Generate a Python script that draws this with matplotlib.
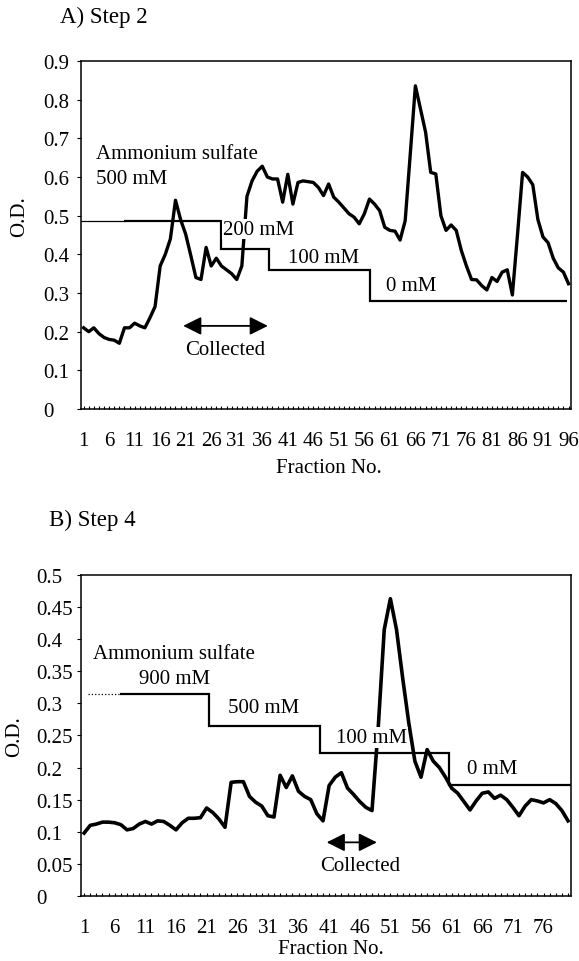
import numpy as np
import matplotlib
matplotlib.use("Agg")
import matplotlib.pyplot as plt

plt.rcParams['font.family'] = ['Liberation Serif', 'DejaVu Serif']
plt.rcParams['font.size'] = 15

# ---- A) Step 2 : 96 fractions ----
od_a = [0.21, 0.20, 0.21, 0.195, 0.185, 0.18, 0.178, 0.17, 0.21, 0.21,
        0.222, 0.215, 0.21, 0.236, 0.265, 0.37, 0.40, 0.44, 0.54, 0.49,
        0.452, 0.397, 0.34, 0.335, 0.418, 0.37, 0.39, 0.37, 0.36, 0.35,
        0.335, 0.37, 0.55, 0.59, 0.615, 0.628, 0.60, 0.595, 0.595, 0.535,
        0.607, 0.53, 0.586, 0.59, 0.588, 0.586, 0.573, 0.552, 0.582, 0.548,
        0.535, 0.52, 0.505, 0.496, 0.479, 0.505, 0.543, 0.53, 0.513, 0.47,
        0.462, 0.46, 0.437, 0.487, 0.66, 0.836, 0.776, 0.716, 0.612, 0.608,
        0.50, 0.462, 0.476, 0.462, 0.41, 0.37, 0.335, 0.334, 0.319, 0.308,
        0.34, 0.33, 0.354, 0.36, 0.295, 0.45, 0.612, 0.60, 0.58, 0.49,
        0.445, 0.43, 0.39, 0.365, 0.354, 0.324]
salt_a_edges = [9.0, 27.9, 37.3, 57.1, 95.7]
salt_a_levels = [0.486, 0.413, 0.36, 0.28]
salt_a_lead = [0.5, 9.0]
xticks_a = list(range(1, 97, 5))
yticks_a = [0, 0.1, 0.2, 0.3, 0.4, 0.5, 0.6, 0.7, 0.8, 0.9]
ylabels_a = ['0', '0.1', '0.2', '0.3', '0.4', '0.5', '0.6', '0.7', '0.8', '0.9']

# ---- B) Step 4 : 80 fractions ----
od_b = [0.098, 0.110, 0.112, 0.115, 0.115, 0.114, 0.111, 0.103, 0.105, 0.112,
        0.116, 0.112, 0.117, 0.116, 0.110, 0.103, 0.114, 0.121, 0.121, 0.122,
        0.137, 0.130, 0.120, 0.107, 0.177, 0.178, 0.178, 0.155, 0.146, 0.140,
        0.125, 0.123, 0.188, 0.169, 0.187, 0.163, 0.155, 0.150, 0.128, 0.117,
        0.172, 0.185, 0.192, 0.168, 0.158, 0.147, 0.138, 0.133, 0.26, 0.415,
        0.463, 0.415, 0.34, 0.27, 0.21, 0.185, 0.228, 0.21, 0.20, 0.185,
        0.168, 0.16, 0.147, 0.134, 0.148, 0.16, 0.162, 0.152, 0.157, 0.15,
        0.138, 0.125, 0.14, 0.15, 0.148, 0.145, 0.15, 0.144, 0.133, 0.117]
salt_b_edges = [6.8, 21.35, 39.5, 60.6, 80.5]
salt_b_levels = [0.315, 0.265, 0.222, 0.173]
salt_b_lead = [1.64, 6.8]
xticks_b = list(range(1, 77, 5))
yticks_b = [0, 0.05, 0.1, 0.15, 0.2, 0.25, 0.3, 0.35, 0.4, 0.45, 0.5]
ylabels_b = ['0', '0.05', '0.1', '0.15', '0.2', '0.25', '0.3', '0.35', '0.4', '0.45', '0.5']

fig = plt.figure(figsize=(5.79, 9.62), dpi=100)
ax1 = fig.add_axes([0.140, 0.5738, 0.8463, 0.3617])
ax2 = fig.add_axes([0.140, 0.0676, 0.8463, 0.3337])


def style_axes(ax, n, xt, yt, yl, ypad):
    ax.set_xlim(0.5, n + 0.5)
    ax.set_ylim(yt[0], yt[-1])
    ax.set_xticks(xt)
    ax.set_xticklabels([str(v) for v in xt])
    ax.set_xticks(range(1, n + 1), minor=True)
    ax.tick_params(axis='x', which='both', direction='in', length=2.5,
                   width=0.8, pad=16)
    ax.set_yticks(yt)
    ax.set_yticklabels(yl)
    ax.tick_params(axis='y', direction='out', length=3, width=0.8, pad=ypad)
    for lbl in ax.get_yticklabels():
        lbl.set_horizontalalignment('left')
    for s in ax.spines.values():
        s.set_linewidth(1.1)
    ax.set_xlabel('Fraction No.', va='center')
    ax.set_ylabel('O.D.', va='center')


style_axes(ax1, len(od_a), xticks_a, yticks_a, ylabels_a, 24.5)
style_axes(ax2, len(od_b), xticks_b, yticks_b, ylabels_b, 29.5)
ax1.xaxis.set_label_coords(0.506, -0.167)
ax1.yaxis.set_label_coords(-0.125, 0.555)
ax2.xaxis.set_label_coords(0.51, -0.165)
ax2.yaxis.set_label_coords(-0.136, 0.498)

arrow = dict(arrowstyle='<|-|>,head_length=1.1,head_width=0.55',
             color='black', lw=1.3, mutation_scale=10, shrinkA=0, shrinkB=0)
white = dict(facecolor='white', edgecolor='none', pad=0.5)

# panel A
fa = np.arange(1, len(od_a) + 1)
ax1.plot(fa, od_a, color='black', lw=2.4, zorder=2)
ax1.plot(salt_a_lead, [salt_a_levels[0]] * 2, color='black', lw=0.9)
ax1.stairs(salt_a_levels, salt_a_edges, baseline=None, color='black', lw=1.6)
ax1.text(3.4, 0.66, 'Ammonium sulfate', va='center')
ax1.text(3.4, 0.595, '500 mM', va='center')
ax1.text(28.3, 0.465, '200 mM', va='center', bbox=white, zorder=3)
ax1.text(41.1, 0.392, '100 mM', va='center')
ax1.text(60.3, 0.319, '0 mM', va='center')
ax1.annotate('', xy=(37.1, 0.215), xytext=(20.5, 0.215), arrowprops=arrow)
ax1.text(28.8, 0.155, 'Collected', ha='center', va='center')
fig.text(60 / 579, 1 - 17 / 962, 'A) Step 2', fontsize=16.5, va='center')

# panel B
fb = np.arange(1, len(od_b) + 1)
ax2.plot(fb, od_b, color='black', lw=2.6, zorder=2)
ax2.plot(salt_b_lead, [salt_b_levels[0]] * 2, color='black', lw=0.9, ls=':')
ax2.stairs(salt_b_levels, salt_b_edges, baseline=None, color='black', lw=1.6)
ax2.text(2.5, 0.377, 'Ammonium sulfate', va='center')
ax2.text(9.9, 0.339, '900 mM', va='center')
ax2.text(24.5, 0.294, '500 mM', va='center')
ax2.text(42.2, 0.247, '100 mM', va='center', bbox=white, zorder=3)
ax2.text(63.5, 0.199, '0 mM', va='center')
ax2.annotate('', xy=(48.8, 0.0835), xytext=(40.6, 0.0835), arrowprops=arrow)
ax2.text(46.0, 0.047, 'Collected', ha='center', va='center')
fig.text(49 / 579, 1 - 520 / 962, 'B) Step 4', fontsize=16.5, va='center')

fig.savefig('out.png', dpi=100)
